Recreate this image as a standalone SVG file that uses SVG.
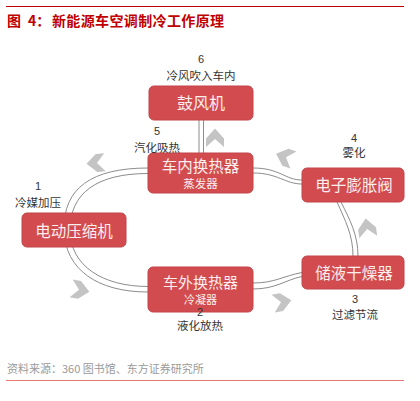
<svg xmlns="http://www.w3.org/2000/svg" width="420" height="401" viewBox="0 0 420 401">
<defs>
<style>
.box{fill:#d24c4f;stroke:#c2454a;stroke-width:1}
.bt{font-family:"Noto Sans CJK SC","Noto Sans",sans-serif;fill:#fbeeee;text-anchor:middle}
.lb{font-family:"Noto Sans CJK SC","Noto Sans",sans-serif;fill:#333;font-size:11.5px;text-anchor:middle}
.num{font-family:"Liberation Sans","Noto Sans",sans-serif;fill:#333;font-size:11px;text-anchor:middle}
.ln{fill:none;stroke:#8c8c8c;stroke-width:1}
.chev{fill:#c4c4c4}
</style>
<polygon id="ch" points="0,-9.5 9,0.5 9,9 0,1 -9,9 -9,0.5"/>
</defs>
<rect width="420" height="401" fill="#fff"/>
<line x1="6" y1="6.5" x2="404" y2="6.5" stroke="#c00000" stroke-width="1"/>
<g font-family="'Noto Sans CJK SC','Noto Sans',sans-serif" font-weight="bold" font-size="14" fill="#c00000">
<text x="7" y="26">图</text>
<text x="28" y="26">4：</text>
<text x="52" y="26" textLength="172">新能源车空调制冷工作原理</text>
</g>
<g id="connectors">
<line class="ln" x1="199" y1="120" x2="199" y2="153"/>
<line class="ln" x1="203.5" y1="120" x2="203.5" y2="153"/>
<path class="ln" d="M148,168 C92,168 63,188 64,230 C65,270 98,292 148,292"/>
<path class="ln" d="M148,173.5 C97,173.5 70,193 70,230 C70,266 103,286.5 148,286.5"/>
<path class="ln" d="M253,168 C280,168 285,180 302,180"/>
<path class="ln" d="M253,173 C278,173 285,184 302,184"/>
<path class="ln" d="M337,202 C345,220 353,235 353,256"/>
<path class="ln" d="M341,202 C350,220 358,235 358,256"/>
<path class="ln" d="M302,272.5 C283,276 275,283 253,283"/>
<path class="ln" d="M302,276.5 C285,280 276,289 253,289"/>
<g class="chev">
<use href="#ch" transform="translate(215,138)"/>
<use href="#ch" transform="translate(96,163) rotate(-95)"/>
<use href="#ch" transform="translate(80,290) rotate(100)"/>
<use href="#ch" transform="translate(282,302) rotate(80)"/>
<use href="#ch" transform="translate(367,228) rotate(-8)"/>
<use href="#ch" transform="translate(285,157) rotate(-70)"/>
</g>
</g>
<g id="blower">
<rect class="box" x="149" y="86" width="104" height="34" rx="5"/>
<text class="bt" x="201" y="108.5" font-size="16">鼓风机</text>
</g>
<g id="evaporator">
<rect class="box" x="148" y="153" width="105" height="40" rx="5"/>
<text class="bt" x="200.5" y="171.5" font-size="15.5">车内换热器</text>
<text class="bt" x="200.5" y="188" font-size="11.5">蒸发器</text>
</g>
<g id="valve">
<rect class="box" x="302" y="168" width="102" height="34" rx="5"/>
<text class="bt" x="354" y="191" font-size="15.5">电子膨胀阀</text>
</g>
<g id="compressor">
<rect class="box" x="22" y="213" width="104" height="34" rx="5"/>
<text class="bt" x="74" y="236.5" font-size="15.5">电动压缩机</text>
</g>
<g id="condenser">
<rect class="box" x="148" y="267" width="105" height="45" rx="5"/>
<text class="bt" x="200.5" y="287.5" font-size="15">车外换热器</text>
<text class="bt" x="200.5" y="304" font-size="11">冷凝器</text>
</g>
<g id="drier">
<rect class="box" x="302" y="256" width="102" height="33" rx="5"/>
<text class="bt" x="354" y="279" font-size="15.5">储液干燥器</text>
</g>
<g id="labels">
<text class="num" x="201" y="63">6</text>
<text class="lb" x="201" y="80">冷风吹入车内</text>
<text class="num" x="157" y="135">5</text>
<text class="lb" x="157" y="152">汽化吸热</text>
<text class="num" x="354" y="142">4</text>
<text class="lb" x="354" y="157">雾化</text>
<text class="num" x="38" y="190">1</text>
<text class="lb" x="38" y="207">冷媒加压</text>
<text class="num" x="200" y="316">2</text>
<text class="lb" x="200" y="330">液化放热</text>
<text class="num" x="355" y="303">3</text>
<text class="lb" x="355" y="319">过滤节流</text>
</g>
<text x="7" y="373" font-family="'Noto Sans CJK SC','Noto Sans',sans-serif" font-size="11" fill="#9a9a9a">资料来源：360 图书馆、东方证券研究所</text>
<line x1="6" y1="380.5" x2="404" y2="380.5" stroke="#e87878" stroke-width="1"/>
</svg>
